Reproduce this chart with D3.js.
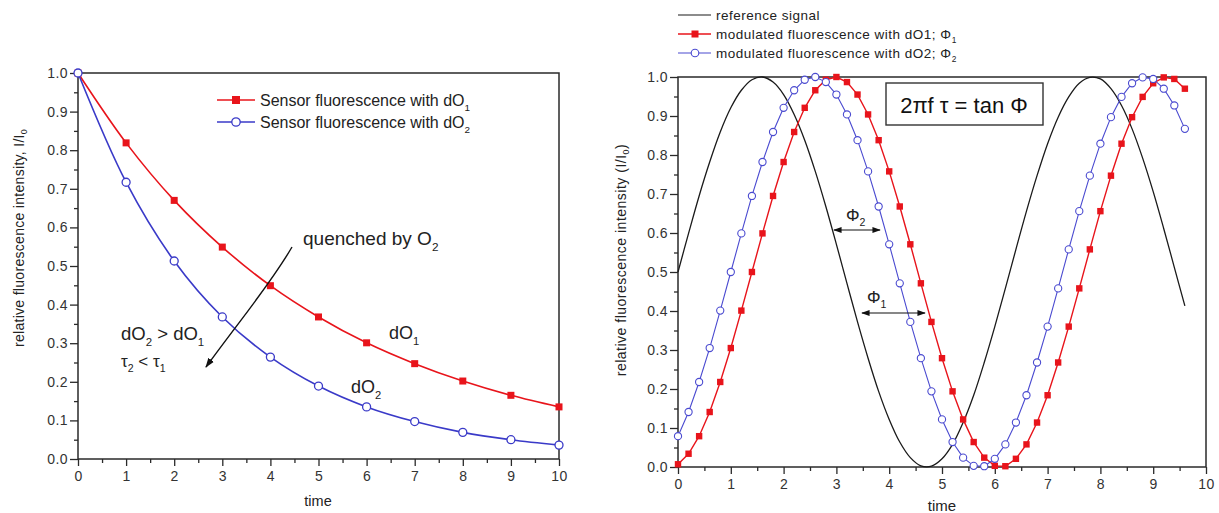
<!DOCTYPE html>
<html>
<head>
<meta charset="utf-8">
<script src="https://cdn.jsdelivr.net/npm/d3@7"></script>
<style>
  html, body { margin: 0; padding: 0; background: #fff; }
  svg { display: block; font-family: "Liberation Sans", Arial, sans-serif; }
</style>
</head>
<body>
<svg id="chart" width="1219" height="513"></svg>
<script>
// ---- Left panel: fluorescence decay ----
const decayTime = [0, 1, 2, 3, 4, 5, 6, 7, 8, 9, 10];
const decayDO1 = [1.0, 0.819, 0.670, 0.549, 0.449, 0.368, 0.301, 0.247, 0.202, 0.165, 0.135];
const decayDO2 = [1.0, 0.717, 0.513, 0.368, 0.264, 0.189, 0.135, 0.097, 0.069, 0.050, 0.036];

// ---- Right panel: phase-modulated signals (sampled every 0.2) ----
const modTime = d3.range(0, 49).map(i => +(i * 0.2).toFixed(1));
const refSignal = [0.500,0.599,0.695,0.782,0.859,0.921,0.966,0.993,1.000,0.987,0.955,0.904,0.838,0.758,0.668,0.571,0.471,0.372,0.279,0.194,0.122,0.064,0.024,0.003,0.002,0.021,0.058,0.114,0.184,0.268,0.360,0.458,0.558,0.656,0.747,0.829,0.897,0.949,0.984,0.999,0.995,0.970,0.927,0.867,0.792,0.706,0.611,0.512,0.413];
const modDO1 = [0.007,0.034,0.079,0.141,0.218,0.305,0.401,0.500,0.599,0.695,0.782,0.859,0.921,0.966,0.993,1.000,0.987,0.955,0.904,0.838,0.758,0.668,0.571,0.471,0.372,0.279,0.194,0.122,0.064,0.024,0.003,0.002,0.021,0.058,0.114,0.184,0.268,0.360,0.458,0.558,0.656,0.747,0.829,0.897,0.949,0.984,0.999,0.995,0.970];
const modDO2 = [0.079,0.141,0.218,0.305,0.401,0.500,0.599,0.695,0.782,0.859,0.921,0.966,0.993,1.000,0.987,0.955,0.904,0.838,0.758,0.668,0.571,0.471,0.372,0.279,0.194,0.122,0.064,0.024,0.003,0.002,0.021,0.058,0.114,0.184,0.268,0.360,0.458,0.558,0.656,0.747,0.829,0.897,0.949,0.984,0.999,0.995,0.970,0.927,0.867];

const xTickValues = [0, 1, 2, 3, 4, 5, 6, 7, 8, 9, 10];
const yTickValues = [0, 0.1, 0.2, 0.3, 0.4, 0.5, 0.6, 0.7, 0.8, 0.9, 1.0];

const RED = "#e8141b";
const BLUE = "#3a3ac8";
const BLUE_LIGHT = "#4a4ad0";
const AXIS = "#2a2a2a";
const TEXT = "#222";

const svg = d3.select("#chart");

// arrow markers
const defs = svg.append("defs");
function arrowMarker(id, orient) {
  defs.append("marker")
    .attr("id", id)
    .attr("viewBox", "0 0 10 10")
    .attr("refX", 9).attr("refY", 5)
    .attr("markerWidth", 7).attr("markerHeight", 7)
    .attr("orient", orient)
    .append("path").attr("d", "M0,1.5 L10,5 L0,8.5 Z").attr("fill", "#111");
}
arrowMarker("arrowEnd", "auto");
arrowMarker("arrowStart", "auto-start-reverse");

function drawFrame(g, x, y) {
  const [x0, x1] = x.range();
  const [y0, y1] = y.range();
  const xMinor = d3.range(0.5, 10, 1);
  const yMinor = d3.range(0.05, 1, 0.1);
  g.append("g").attr("transform", `translate(0,${y0})`)
    .call(d3.axisBottom(x).tickValues(xMinor).tickSize(4).tickFormat(""))
    .call(a => a.select(".domain").remove())
    .selectAll("line").attr("stroke", AXIS).attr("stroke-width", 1.3);
  g.append("g").attr("transform", `translate(${x0},0)`)
    .call(d3.axisLeft(y).tickValues(yMinor).tickSize(4).tickFormat(""))
    .call(a => a.select(".domain").remove())
    .selectAll("line").attr("stroke", AXIS).attr("stroke-width", 1.3);
  const xa = g.append("g").attr("transform", `translate(0,${y0})`)
    .call(d3.axisBottom(x).tickValues(xTickValues).tickSize(7).tickPadding(5).tickFormat(d3.format("d")));
  xa.select(".domain").remove();
  xa.selectAll("line").attr("stroke", AXIS).attr("stroke-width", 1.3);
  xa.selectAll("text").attr("font-size", 14).attr("letter-spacing", 0.4).attr("fill", "#333");
  const ya = g.append("g").attr("transform", `translate(${x0},0)`)
    .call(d3.axisLeft(y).tickValues(yTickValues).tickSize(8).tickPadding(2).tickFormat(d3.format(".1f")));
  ya.select(".domain").remove();
  ya.selectAll("line").attr("stroke", AXIS).attr("stroke-width", 1.3);
  ya.selectAll("text").attr("font-size", 14).attr("letter-spacing", 0.4).attr("fill", "#333");
  g.append("rect").attr("x", x0).attr("y", y1).attr("width", x1 - x0).attr("height", y0 - y1)
    .attr("fill", "none").attr("stroke", AXIS).attr("stroke-width", 1.5);
}

// text with subscripted pieces: main[i] followed by subs[i]
function sub(g, x, y, main, subs, size, opts) {
  opts = opts || {};
  const t = g.append("text").attr("x", x).attr("y", y).attr("font-size", size)
    .attr("fill", TEXT).attr("text-anchor", opts.anchor || "start");
  if (opts.spacing) t.attr("letter-spacing", opts.spacing);
  let shifted = 0;
  main.forEach((m, i) => {
    const s = t.append("tspan").text(m);
    if (shifted) { s.attr("dy", -shifted); shifted = 0; }
    if (subs[i] != null) {
      const d = size * 0.32;
      t.append("tspan").text(subs[i]).attr("font-size", size * 0.62).attr("dy", d);
      shifted = d;
    }
  });
  return t;
}

// ===================== LEFT PANEL =====================
{
  const g = svg.append("g");
  const x = d3.scaleLinear().domain([0, 10]).range([78, 559]);
  const y = d3.scaleLinear().domain([0, 1]).range([459, 73]);
  drawFrame(g, x, y);

  const line = d3.line().x((d, i) => x(decayTime[i])).y(d => y(d)).curve(d3.curveCatmullRom);
  g.append("path").datum(decayDO1).attr("d", line).attr("fill", "none").attr("stroke", RED).attr("stroke-width", 1.6);
  g.append("path").datum(decayDO2).attr("d", line).attr("fill", "none").attr("stroke", BLUE).attr("stroke-width", 1.6);

  g.selectAll(".sq").data(decayDO1).join("rect")
    .attr("x", (d, i) => x(decayTime[i]) - 3.5).attr("y", d => y(d) - 3.5)
    .attr("width", 7).attr("height", 7).attr("fill", RED);
  g.selectAll(".ci").data(decayDO2).join("circle")
    .attr("cx", (d, i) => x(decayTime[i])).attr("cy", d => y(d)).attr("r", 4)
    .attr("fill", "#fff").attr("stroke", BLUE).attr("stroke-width", 1.3);

  // legend
  const lg = [[RED, "sq", "Sensor fluorescence with dO", "1", 100], [BLUE, "ci", "Sensor fluorescence with dO", "2", 122]];
  lg.forEach(([c, m, txt, s, ly]) => {
    g.append("line").attr("x1", 217).attr("x2", 255).attr("y1", ly).attr("y2", ly).attr("stroke", c).attr("stroke-width", 1.6);
    if (m === "sq") g.append("rect").attr("x", 232).attr("y", ly - 4).attr("width", 8).attr("height", 8).attr("fill", c);
    else g.append("circle").attr("cx", 236).attr("cy", ly).attr("r", 4.2).attr("fill", "#fff").attr("stroke", c).attr("stroke-width", 1.3);
    sub(g, 260, ly + 5.5, [txt], [s], 16);
  });

  // annotations
  sub(g, 303, 245, ["quenched by O"], ["2"], 19);
  g.append("path").attr("d", "M292,247 C270,285 240,320 206,367")
    .attr("fill", "none").attr("stroke", "#111").attr("stroke-width", 1.4).attr("marker-end", "url(#arrowEnd)");
  sub(g, 121, 340, ["dO", " > dO"], ["2", "1"], 18.5);
  sub(g, 121, 367, ["τ", " < τ"], ["2", "1"], 17);
  sub(g, 389, 339, ["dO"], ["1"], 18);
  sub(g, 351, 393, ["dO"], ["2"], 18);

  // axis titles
  const yl = g.append("text").attr("transform", "translate(24,238) rotate(-90)")
    .attr("text-anchor", "middle").attr("font-size", 14).attr("letter-spacing", 0.3).attr("fill", TEXT);
  yl.append("tspan").text("relative fluorescence intensity, I/I");
  yl.append("tspan").text("0").attr("font-size", 9).attr("dy", 3);
  g.append("text").attr("x", 318).attr("y", 506).attr("text-anchor", "middle").attr("font-size", 14.5).attr("fill", TEXT).text("time");
}

// ===================== RIGHT PANEL =====================
{
  const g = svg.append("g");
  const x = d3.scaleLinear().domain([0, 10]).range([678, 1206]);
  const y = d3.scaleLinear().domain([0, 1]).range([467, 77]);
  drawFrame(g, x, y);

  const line = d3.line().x((d, i) => x(modTime[i])).y(d => y(d));
  const smooth = d3.line().x((d, i) => x(modTime[i])).y(d => y(d)).curve(d3.curveCatmullRom);
  g.append("path").datum(refSignal).attr("d", smooth).attr("fill", "none").attr("stroke", "#1a1a1a").attr("stroke-width", 1.3);
  g.append("path").datum(modDO1).attr("d", line).attr("fill", "none").attr("stroke", RED).attr("stroke-width", 1.4);
  g.append("path").datum(modDO2).attr("d", line).attr("fill", "none").attr("stroke", BLUE_LIGHT).attr("stroke-width", 1.1);

  g.selectAll(".sq").data(modDO1).join("rect")
    .attr("x", (d, i) => x(modTime[i]) - 3.2).attr("y", d => y(d) - 3.2)
    .attr("width", 6.4).attr("height", 6.4).attr("fill", RED);
  g.selectAll(".ci").data(modDO2).join("circle")
    .attr("cx", (d, i) => x(modTime[i])).attr("cy", d => y(d)).attr("r", 3.6)
    .attr("fill", "#fff").attr("stroke", BLUE_LIGHT).attr("stroke-width", 1.1);

  // legend above plot
  g.append("line").attr("x1", 678).attr("x2", 711).attr("y1", 15).attr("y2", 15).attr("stroke", "#1a1a1a").attr("stroke-width", 1.2);
  g.append("text").attr("x", 716).attr("y", 19.5).attr("font-size", 13.5).attr("letter-spacing", 0.5).attr("fill", TEXT).text("reference signal");
  g.append("line").attr("x1", 678).attr("x2", 711).attr("y1", 34).attr("y2", 34).attr("stroke", RED).attr("stroke-width", 1.4);
  g.append("rect").attr("x", 691.5).attr("y", 30.5).attr("width", 7).attr("height", 7).attr("fill", RED);
  sub(g, 716, 38.5, ["modulated fluorescence with dO1; Φ"], ["1"], 13.5, { spacing: 0.5 });
  g.append("line").attr("x1", 678).attr("x2", 711).attr("y1", 53).attr("y2", 53).attr("stroke", BLUE_LIGHT).attr("stroke-width", 1.1);
  g.append("circle").attr("cx", 695).attr("cy", 53).attr("r", 3.8).attr("fill", "#fff").attr("stroke", BLUE_LIGHT).attr("stroke-width", 1.1);
  sub(g, 716, 57.5, ["modulated fluorescence with dO2; Φ"], ["2"], 13.5, { spacing: 0.5 });

  // formula box
  g.append("rect").attr("x", 886).attr("y", 83).attr("width", 157).attr("height", 42)
    .attr("fill", "#fff").attr("stroke", "#333").attr("stroke-width", 1.4);
  g.append("text").attr("x", 964).attr("y", 112.5).attr("text-anchor", "middle").attr("font-size", 22).attr("fill", "#111")
    .text("2πf τ = tan Φ");

  // phase arrows
  g.append("line").attr("x1", 834).attr("x2", 880).attr("y1", 230).attr("y2", 230)
    .attr("stroke", "#111").attr("stroke-width", 1.2).attr("marker-start", "url(#arrowStart)").attr("marker-end", "url(#arrowEnd)");
  sub(g, 846, 221, ["Φ"], ["2"], 17);
  g.append("line").attr("x1", 862).attr("x2", 925).attr("y1", 313).attr("y2", 313)
    .attr("stroke", "#111").attr("stroke-width", 1.2).attr("marker-start", "url(#arrowStart)").attr("marker-end", "url(#arrowEnd)");
  sub(g, 867, 303, ["Φ"], ["1"], 17);

  // axis titles
  const yl = g.append("text").attr("transform", "translate(626,260) rotate(-90)")
    .attr("text-anchor", "middle").attr("font-size", 14).attr("letter-spacing", 0.5).attr("fill", TEXT);
  yl.append("tspan").text("relative fluorescence intensity (I/I");
  yl.append("tspan").text("0").attr("font-size", 9).attr("dy", 3);
  yl.append("tspan").text(")").attr("dy", -3);
  g.append("text").attr("x", 942).attr("y", 511).attr("text-anchor", "middle").attr("font-size", 15).attr("fill", TEXT).text("time");
}
</script>
</body>
</html>
